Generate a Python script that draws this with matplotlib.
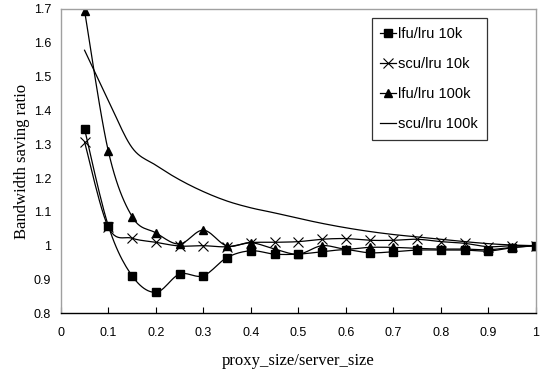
import numpy as np
import matplotlib
matplotlib.use("Agg")
import matplotlib.pyplot as plt
from matplotlib.ticker import FuncFormatter

x = [0.05, 0.1, 0.15, 0.2, 0.25, 0.3, 0.35, 0.4, 0.45, 0.5,
     0.55, 0.6, 0.65, 0.7, 0.75, 0.8, 0.85, 0.9, 0.95, 1.0]

lfu_10k = [1.345, 1.059, 0.911, 0.862, 0.916, 0.911, 0.965, 0.985, 0.975, 0.975,
           0.982, 0.988, 0.979, 0.982, 0.987, 0.987, 0.987, 0.984, 0.994, 1.0]
scu_10k = [1.307, 1.055, 1.022, 1.010, 0.999, 1.000, 0.997, 1.009, 1.010, 1.012,
           1.019, 1.021, 1.016, 1.016, 1.019, 1.012, 1.007, 0.997, 1.000, 1.0]
lfu_100k = [1.695, 1.280, 1.086, 1.038, 1.005, 1.046, 0.999, 1.009, 0.990, 0.975,
            1.000, 0.990, 0.995, 0.995, 0.992, 0.990, 0.990, 0.988, 0.995, 1.0]
scu_100k = [1.578, 1.430, 1.290, 1.238, 1.195, 1.160, 1.132, 1.112, 1.097, 1.081,
            1.066, 1.053, 1.042, 1.033, 1.026, 1.019, 1.012, 1.006, 1.002, 1.0]

labels = ["lfu/lru 10k", "scu/lru 10k", "lfu/lru 100k", "scu/lru 100k"]
xticks = [0, 0.1, 0.2, 0.3, 0.4, 0.5, 0.6, 0.7, 0.8, 0.9, 1]
yticks = [0.8, 0.9, 1.0, 1.1, 1.2, 1.3, 1.4, 1.5, 1.6, 1.7]


def smooth(xs, ys, n=12):
    """Catmull-Rom style curve through the points (like a smoothed line)."""
    P = np.column_stack([xs, ys]).astype(float)
    P = np.vstack([P[0], P, P[-1]])
    out = []
    t = np.linspace(0, 1, n, endpoint=False)
    for i in range(1, len(P) - 2):
        p0, p1, p2, p3 = P[i - 1], P[i], P[i + 1], P[i + 2]
        c1 = p1 + (p2 - p0) / 6.0
        c2 = p2 - (p3 - p1) / 6.0
        for tt in t:
            b = ((1 - tt) ** 3) * p1 + 3 * ((1 - tt) ** 2) * tt * c1 \
                + 3 * (1 - tt) * tt ** 2 * c2 + tt ** 3 * p2
            out.append(b)
    out.append(P[-2])
    out = np.array(out)
    return out[:, 0], out[:, 1]


fig = plt.figure(figsize=(5.4, 3.7), dpi=100)
ax = fig.add_axes([0.1126, 0.1532, 0.8796, 0.8225])

lw = 0.9
series = [
    (lfu_10k, dict(marker="s", markersize=5.5, markerfacecolor="black", markeredgecolor="black")),
    (scu_10k, dict(marker="x", markersize=6.5, markeredgewidth=0.8)),
    (lfu_100k, dict(marker="^", markersize=5.5, markerfacecolor="black", markeredgecolor="black")),
    (scu_100k, dict(marker=None)),
]

handles = []
for (ys, st), lab in zip(series, labels):
    sx, sy = smooth(x, ys)
    ax.plot(sx, sy, color="black", lw=lw, solid_joinstyle="round")
    if st.get("marker"):
        ax.plot(x, ys, linestyle="none", color="black", **st)
    h, = ax.plot([], [], color="black", lw=lw, **st)
    handles.append(h)

ax.set_xlim(0, 1)
ax.set_ylim(0.8, 1.7)
ax.set_xticks(xticks)
ax.set_yticks(yticks)
fmt = FuncFormatter(lambda v, p: "%g" % round(v, 2))
ax.xaxis.set_major_formatter(fmt)
ax.yaxis.set_major_formatter(fmt)

for side in ["left", "top", "right"]:
    ax.spines[side].set_color("#a0a0a0")
    ax.spines[side].set_linewidth(1.0)
ax.spines["bottom"].set_color("black")
ax.spines["bottom"].set_linewidth(1.0)

ax.tick_params(axis="x", direction="in", length=4, width=0.8, pad=10,
               labelsize=9, labelfontfamily="Liberation Sans")
ax.tick_params(axis="y", length=0, pad=7, labelsize=9, labelfontfamily="Liberation Sans")

ax.set_xlabel("proxy_size/server_size", family="Liberation Serif", fontsize=12, labelpad=10)
ax.set_ylabel("Bandwidth saving ratio", family="Liberation Serif", fontsize=12, labelpad=3)

leg = fig.legend(handles, labels, loc="upper left",
                 bbox_to_anchor=(0.688, 0.9505), bbox_transform=fig.transFigure,
                 frameon=True, fancybox=False, borderaxespad=0,
                 handlelength=1.1, handletextpad=0.15, labelspacing=1.1,
                 borderpad=0.6, prop={"family": "Liberation Sans", "size": 10.5})
leg.get_frame().set_edgecolor("black")
leg.get_frame().set_linewidth(0.9)

fig.savefig("out.png", dpi=100)
